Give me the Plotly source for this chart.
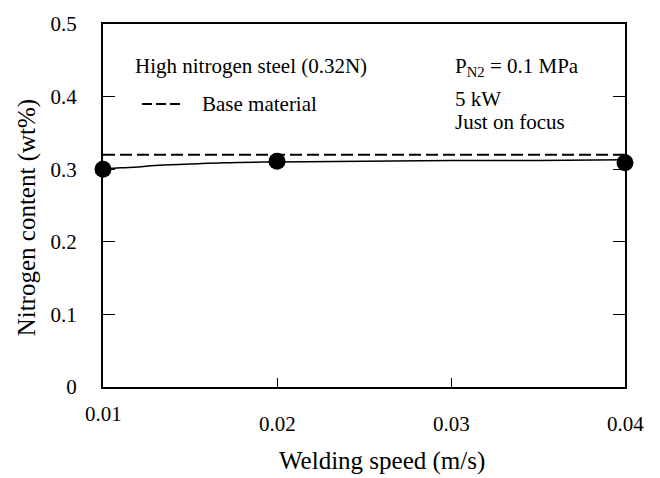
import plotly.graph_objects as go

# Data
speed = [0.01, 0.02, 0.04]
nitrogen = [0.300, 0.311, 0.309]
curve_x = [0.010, 0.011, 0.012, 0.013, 0.015, 0.017, 0.020, 0.025, 0.030, 0.035, 0.040]
curve_y = [0.300, 0.302, 0.303, 0.305, 0.307, 0.309, 0.310, 0.311, 0.312, 0.312, 0.313]
base_x = [0.01, 0.04]
base_y = [0.32, 0.32]
x_ticks = [0.01, 0.02, 0.03, 0.04]
x_tick_labels = ["0.01", "0.02", "0.03", "0.04"]
y_ticks = [0, 0.1, 0.2, 0.3, 0.4, 0.5]
y_tick_labels = ["0", "0.1", "0.2", "0.3", "0.4", "0.5"]

FONT = "Liberation Serif, Times New Roman, serif"
W, H = 660, 478
L, R, T, B = 103, 35, 19, 91
PW, PH = W - L - R, H - T - B


def px(x):
    return (x - L) / PW


def py(y):
    return (H - B - y) / PH


fig = go.Figure()
fig.add_trace(go.Scatter(x=base_x, y=base_y, mode="lines",
                         line=dict(color="black", width=2, dash="12px,5px"),
                         showlegend=False, cliponaxis=False))
fig.add_trace(go.Scatter(x=curve_x, y=curve_y, mode="lines",
                         line=dict(color="black", width=1.5, shape="spline"),
                         showlegend=False))
fig.add_trace(go.Scatter(x=speed, y=nitrogen, mode="markers",
                         marker=dict(color="black", size=17),
                         showlegend=False, cliponaxis=False))

fig.update_xaxes(range=[0.01, 0.04], tickvals=x_ticks, showticklabels=False,
                 ticks="inside", ticklen=9, tickwidth=1, tickcolor="black",
                 showline=True, linecolor="black", linewidth=2, mirror=True,
                 showgrid=False, zeroline=False)
fig.update_yaxes(range=[0, 0.5], tickvals=y_ticks, ticktext=y_tick_labels,
                 ticks="inside", ticklen=12, tickwidth=1, tickcolor="black",
                 showline=True, linecolor="black", linewidth=2, mirror="ticks",
                 showgrid=False, zeroline=False, ticklabelstandoff=20,
                 tickfont=dict(family=FONT, size=21, color="black"))

ann = []
for i, (v, t) in enumerate(zip(x_ticks, x_tick_labels)):
    ann.append(dict(x=v, y=0, xref="x", yref="y", text=t, showarrow=False,
                    yanchor="middle", yshift=-27 if i == 0 else -37,
                    font=dict(family=FONT, size=21, color="black")))


def txt(x, y, text, size=21, **kw):
    d = dict(x=px(x), y=py(y), xref="paper", yref="paper", text=text,
             showarrow=False, xanchor="left", yanchor="middle",
             font=dict(family=FONT, size=size, color="black"))
    d.update(kw)
    return d


ann += [
    txt(382, 462, "Welding speed (m/s)", size=25, xanchor="center"),
    txt(27, 216, "Nitrogen content (wt%)", size=25, xanchor="center", textangle=-90),
    txt(133, 62, "High nitrogen steel (0.32N)"),
    txt(200, 100, "Base material"),
    txt(453, 63, "P<sub>N2</sub> = 0.1 MPa"),
    txt(453, 95, "5 kW"),
    txt(453, 118, "Just on focus"),
]

fig.update_layout(
    width=W, height=H,
    margin=dict(l=L, r=R, t=T, b=B),
    paper_bgcolor="white", plot_bgcolor="white",
    annotations=ann,
    shapes=[dict(type="line", xref="paper", yref="paper", x0=px(142), x1=px(180),
                 y0=py(100), y1=py(100), line=dict(color="black", width=2, dash="10px,4px"))],
)
fig.write_html("out.html")
